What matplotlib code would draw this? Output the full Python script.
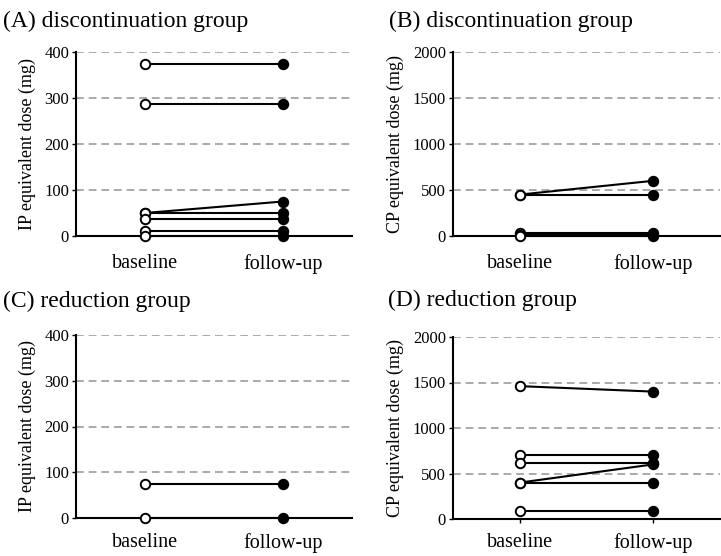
import matplotlib
matplotlib.use("Agg")
import matplotlib.pyplot as plt

plt.rcParams['font.family'] = ['Liberation Serif', 'DejaVu Serif']

timepoints = ["baseline", "follow-up"]

# (A) discontinuation group, IP equivalent dose
a_base = [375, 287, 50, 50, 37, 10, 0]
a_follow = [375, 287, 75, 50, 37, 10, 0]
# (B) discontinuation group, CP equivalent dose
b_base = [450, 450, 37, 12, 0]
b_follow = [600, 450, 37, 12, 0]
# (C) reduction group, IP equivalent dose
c_base = [75, 0]
c_follow = [75, 0]
# (D) reduction group, CP equivalent dose
d_base = [1460, 700, 610, 400, 400, 90]
d_follow = [1400, 700, 610, 600, 400, 90]

ip_ticks = [0, 100, 200, 300, 400]
cp_ticks = [0, 500, 1000, 1500, 2000]

fig = plt.figure(figsize=(7.21, 5.56), dpi=100)

panels = [
    ("(A) discontinuation group", a_base, a_follow, ip_ticks, "IP equivalent dose (mg)",
     [76/721, 1-236/556, 276/721, 184/556], (3/721, 1-21/556), 10),
    ("(B) discontinuation group", b_base, b_follow, cp_ticks, "CP equivalent dose (mg)",
     [453/721, 1-236/556, 267/721, 184/556], (389/721, 1-21/556), 10),
    ("(C) reduction group", c_base, c_follow, ip_ticks, "IP equivalent dose (mg)",
     [76/721, 1-518/556, 276/721, 183/556], (3/721, 1-301/556), 8),
    ("(D) reduction group", d_base, d_follow, cp_ticks, "CP equivalent dose (mg)",
     [453/721, 1-519/556, 267/721, 182/556], (388/721, 1-300/556), 7),
]

for title, base, follow, ticks, ylabel, rect, tpos, xpad in panels:
    ax = fig.add_axes(rect)
    for yt in ticks[1:]:
        ax.axhline(yt, color='#aaaaaa', lw=1.4, ls=(0, (4, 2.5)), zorder=0)
    for b, f in zip(base, follow):
        ax.plot([0, 1], [b, f], color='black', lw=1.5, zorder=2, clip_on=False)
        ax.plot([0], [b], marker='o', ms=6.8, mfc='white', mec='black', mew=1.4,
                zorder=3, clip_on=False)
        ax.plot([1], [f], marker='o', ms=6.8, mfc='black', mec='black', mew=1.4,
                zorder=3, clip_on=False)
    ax.set_xlim(-0.5, 1.5)
    ax.set_ylim(ticks[0], ticks[-1])
    ax.set_yticks(ticks)
    ax.set_xticks([0, 1])
    ax.set_xticklabels(timepoints, fontsize=14.5)
    ax.tick_params(axis='x', length=3, width=1, pad=xpad)
    ax.tick_params(axis='y', length=3, width=1, pad=2, labelsize=12)
    ax.set_ylabel(ylabel, fontsize=13, labelpad=6)
    for s in ['top', 'right']:
        ax.spines[s].set_visible(False)
    for s in ['left', 'bottom']:
        ax.spines[s].set_linewidth(1.5)
    fig.text(tpos[0], tpos[1], title, fontsize=17, ha='left', va='center')

fig.savefig("out.png", dpi=100)
